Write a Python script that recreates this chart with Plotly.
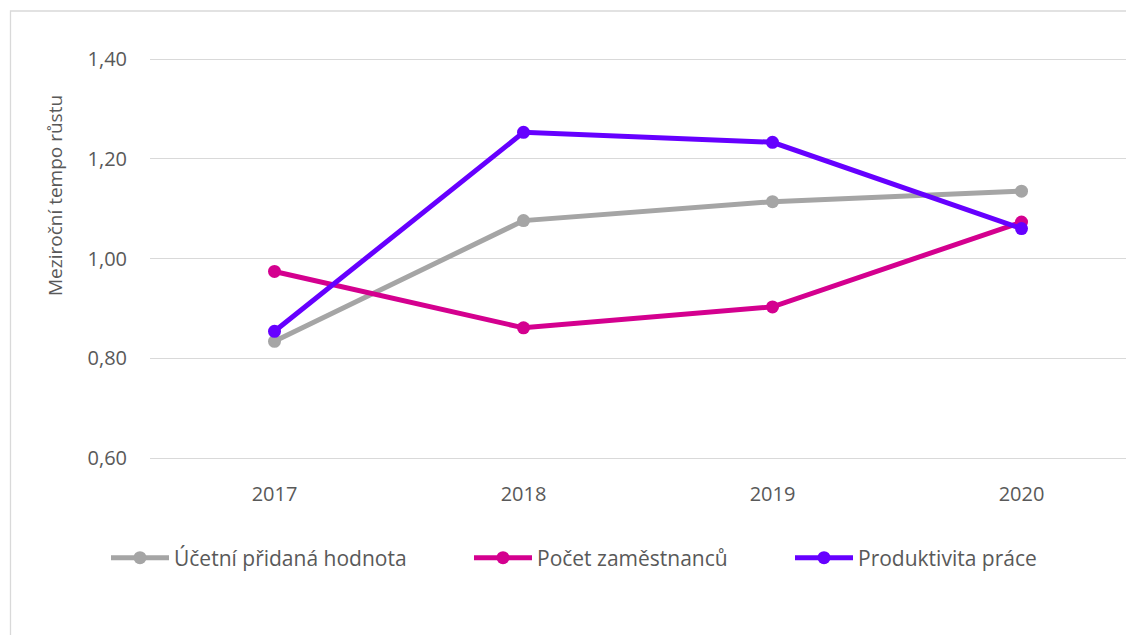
import plotly.graph_objects as go

years = ["2017", "2018", "2019", "2020"]
pridana_hodnota = [0.834, 1.076, 1.114, 1.135]
pocet_zamestnancu = [0.974, 0.861, 0.903, 1.073]
produktivita = [0.854, 1.253, 1.233, 1.060]

series_names = ["Účetní přidaná hodnota", "Počet zaměstnanců", "Produktivita práce"]
colors = ["#A5A5A5", "#D4008F", "#6600FF"]
y_ticks = [0.6, 0.8, 1.0, 1.2, 1.4]
y_tick_labels = ["0,60", "0,80", "1,00", "1,20", "1,40"]

# page body has an 8px margin; work in reference pixel coords and shift
OFF = 8
W, H = 1134 - OFF, 635 - OFF
# plot area in reference coords: x 150..1134, y 57..460
PL, PR, PT, PB = 150, 1134, 57, 460
L, T = PL - OFF, PT - OFF
R, B = 0, H - (PB - OFF)
pw, ph = W - L - R, H - T - B

def px_x(p):
    return (p - OFF - L) / pw

def px_y(p):
    return (H - B - (p - OFF)) / ph

# y: 1.40 at 59px, 0.60 at 458px
upp = 0.8 / (458 - 59)
y_range = [0.6 - (PB - 458) * upp, 1.4 + (59 - PT) * upp]

FONT = "Open Sans"
TXT = "#595959"

fig = go.Figure()
legend_ids = ["legend", "legend2", "legend3"]
for vals, name, col, lg in zip([pridana_hodnota, pocet_zamestnancu, produktivita],
                                series_names, colors, legend_ids):
    fig.add_trace(go.Scatter(
        x=years, y=vals, name=name, mode="lines+markers",
        line=dict(color=col, width=5),
        marker=dict(color=col, size=13),
        legend=lg,
    ))

legend_common = dict(
    orientation="h", yanchor="middle", xanchor="left",
    font=dict(family=FONT, size=21, color=TXT),
    bgcolor="rgba(0,0,0,0)", itemwidth=58, borderwidth=0,
)

fig.update_layout(
    width=W, height=H,
    margin=dict(l=L, r=R, t=T, b=B, pad=0),
    paper_bgcolor="white", plot_bgcolor="white",
    font=dict(family=FONT, size=20, color=TXT),
    showlegend=True,
    legend=dict(x=px_x(106), y=px_y(558), **legend_common),
    legend2=dict(x=px_x(469), y=px_y(558), **legend_common),
    legend3=dict(x=px_x(790), y=px_y(558), **legend_common),
    xaxis=dict(
        type="category", range=[-0.5, -0.5 + pw / 249.0],
        showgrid=False, showline=False, zeroline=False, ticks="",
        tickfont=dict(family=FONT, size=20, color=TXT),
        ticklabelstandoff=20,
    ),
    yaxis=dict(
        range=y_range, tickvals=y_ticks, ticktext=y_tick_labels,
        showgrid=True, gridcolor="#D9D9D9", gridwidth=1.3,
        zeroline=False, showline=False, ticks="",
        tickfont=dict(family=FONT, size=20, color=TXT),
        ticklabelstandoff=22,
    ),
    annotations=[dict(
        text="Meziroční tempo růstu", textangle=-90,
        xref="paper", yref="paper", x=px_x(55), y=px_y(196),
        xanchor="center", yanchor="middle", showarrow=False,
        font=dict(family=FONT, size=19, color=TXT),
    )],
    shapes=[dict(
        type="rect", xref="paper", yref="paper",
        x0=px_x(10.5), x1=px_x(1160), y0=px_y(700), y1=px_y(11),
        line=dict(color="#D9D9D9", width=1.3), fillcolor="rgba(0,0,0,0)",
        layer="below",
    )],
)

fig.write_html("out.html")
